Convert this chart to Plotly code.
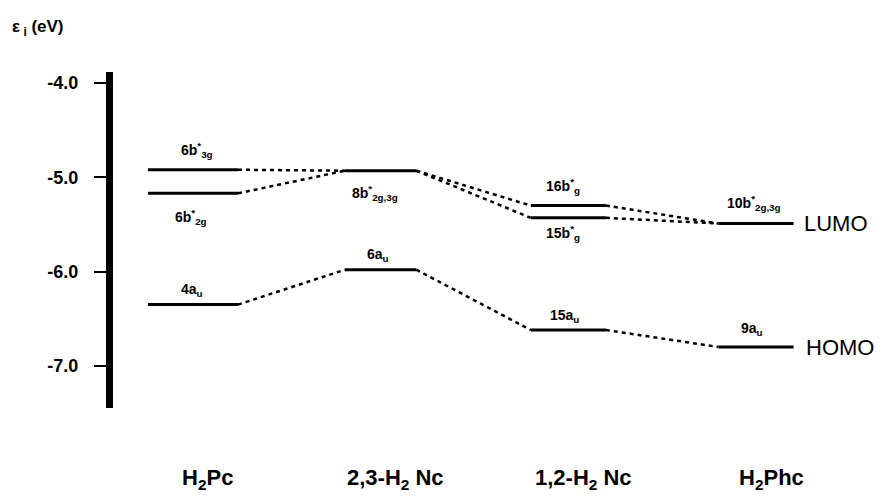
import plotly.graph_objects as go

# ---- data ----
categories = ["H<sub>2</sub>Pc", "2,3-H<sub>2</sub> Nc", "1,2-H<sub>2</sub> Nc", "H<sub>2</sub>Phc"]
homo_energies = [-6.35, -5.98, -6.62, -6.80]
homo_labels = ["4a<sub>u</sub>", "6a<sub>u</sub>", "15a<sub>u</sub>", "9a<sub>u</sub>"]
lumo_upper = [-4.92, -4.93, -5.30, -5.49]
lumo_upper_labels = ["6b<sup>*</sup><sub>3g</sub>", "8b<sup>*</sup><sub>2g,3g</sub>",
                     "16b<sup>*</sup><sub>g</sub>", "10b<sup>*</sup><sub>2g,3g</sub>"]
lumo_lower = [-5.17, None, -5.43, None]
lumo_lower_labels = ["6b<sup>*</sup><sub>2g</sub>", None, "15b<sup>*</sup><sub>g</sub>", None]
y_ticks = [-4.0, -5.0, -6.0, -7.0]
y_tick_text = ["-4.0", "-5.0", "-6.0", "-7.0"]

# ---- style ----
half_w = [0.24, 0.19, 0.20, 0.20]
FONT = "Liberation Sans"
level_line = dict(color="black", width=3)
dash_line = dict(color="black", width=2.5, dash="4px,4px")

fig = go.Figure()

def level(i, e):
    fig.add_trace(go.Scatter(x=[i - half_w[i], i + half_w[i]], y=[e, e], mode="lines",
                             line=level_line, hoverinfo="skip", showlegend=False))

def connector(i, e1, e2):
    fig.add_trace(go.Scatter(x=[i + half_w[i], i + 1 - half_w[i + 1]], y=[e1, e2], mode="lines",
                             line=dash_line, hoverinfo="skip", showlegend=False))

n = len(categories)
for i in range(n):
    level(i, homo_energies[i])
    level(i, lumo_upper[i])
    if lumo_lower[i] is not None:
        level(i, lumo_lower[i])

for i in range(n - 1):
    connector(i, homo_energies[i], homo_energies[i + 1])
    a = [e for e in (lumo_upper[i], lumo_lower[i]) if e is not None]
    b = [e for e in (lumo_upper[i + 1], lumo_lower[i + 1]) if e is not None]
    for e1 in a:
        for e2 in b:
            connector(i, e1, e2)

annos = []
lab_font = dict(family=FONT, size=14, color="black", weight="bold")
# label offsets (px): (xshift, yshift)
upper_off = [(4, 20), (-6, -22), (-5, 20), (-2, 21)]
lower_off = [(-2, -24), None, (-5, -15), None]
homo_off = [(-1, 15), (-3, 15), (-4, 14), (-4, 18)]
for i in range(n):
    xs, ys = upper_off[i]
    annos.append(dict(x=i, y=lumo_upper[i], text=lumo_upper_labels[i], showarrow=False,
                      xshift=xs, yshift=ys, font=lab_font))
    if lumo_lower[i] is not None:
        xs, ys = lower_off[i]
        annos.append(dict(x=i, y=lumo_lower[i], text=lumo_lower_labels[i], showarrow=False,
                          xshift=xs, yshift=ys, font=lab_font))
    xs, ys = homo_off[i]
    annos.append(dict(x=i, y=homo_energies[i], text=homo_labels[i], showarrow=False,
                      xshift=xs, yshift=ys, font=lab_font))
    annos.append(dict(x=i, y=0, yref="paper", text=categories[i], showarrow=False,
                      xshift=15, yshift=-71, yanchor="middle",
                      font=dict(family=FONT, size=22, color="black", weight="bold")))

annos.append(dict(x=n - 1 + half_w[n - 1], y=lumo_upper[n - 1], text="LUMO", showarrow=False,
                  xanchor="left", xshift=8, font=dict(family=FONT, size=22, color="black")))
annos.append(dict(x=n - 1 + half_w[n - 1], y=homo_energies[n - 1], text="HOMO", showarrow=False,
                  xanchor="left", xshift=10, font=dict(family=FONT, size=22, color="black")))

H, W = 498, 883
mt, mb, ml, mr = 72, 90, 113, 10
annos.append(dict(x=(10 - ml) / (W - ml - mr), y=(H - 28 - mb) / (H - mt - mb),
                  xref="paper", yref="paper", text="ε<sub> i</sub> (eV)", showarrow=False,
                  xanchor="left", yanchor="middle",
                  font=dict(family=FONT, size=17, color="black", weight="bold")))

fig.update_layout(
    width=W, height=H,
    margin=dict(l=ml, r=mr, t=mt, b=mb),
    plot_bgcolor="white", paper_bgcolor="white",
    annotations=annos,
    xaxis=dict(range=[-0.426, 3.623], visible=False),
    yaxis=dict(range=[-7.447, -3.883], showgrid=False, zeroline=False,
               showline=True, linewidth=7, linecolor="black",
               tickvals=y_ticks, ticktext=y_tick_text, ticks="outside", ticklen=12,
               tickwidth=2, tickcolor="black", ticklabelstandoff=12,
               tickfont=dict(family=FONT, size=18, color="black", weight="bold")),
)

fig.write_html("out.html", config={"displayModeBar": False},
               post_script="document.body.style.margin='0px';")
